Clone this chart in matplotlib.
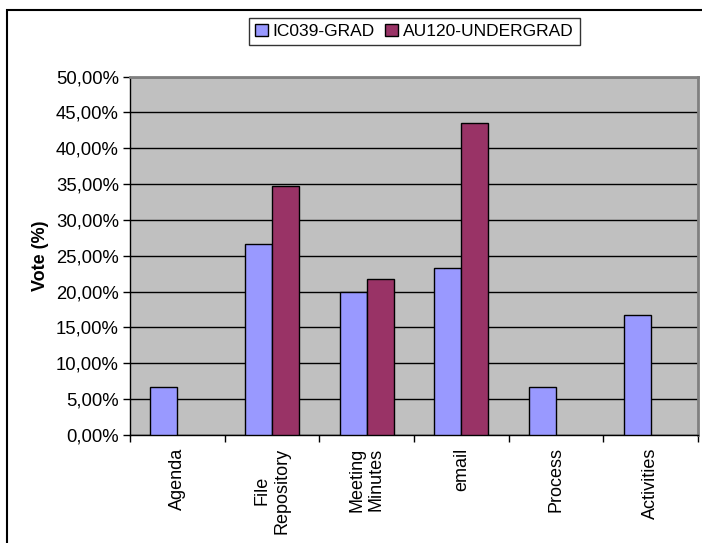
import matplotlib
matplotlib.use("Agg")
import matplotlib.pyplot as plt
import numpy as np
from matplotlib.patches import Rectangle
from matplotlib.ticker import FuncFormatter

plt.rcParams['font.family'] = ['Liberation Sans', 'DejaVu Sans']

categories = ["Agenda", "File\nRepository", "Meeting\nMinutes", "email", "Process", "Activities"]
series_names = ["IC039-GRAD", "AU120-UNDERGRAD"]
grad_values = [6.67, 26.67, 20.00, 23.33, 6.67, 16.67]
undergrad_values = [0.0, 34.78, 21.74, 43.48, 0.0, 0.0]
y_ticks = [0, 5, 10, 15, 20, 25, 30, 35, 40, 45, 50]

colors = ["#9999FF", "#993366"]

fig = plt.figure(figsize=(7.02, 5.43), dpi=100)
ax = fig.add_axes([130 / 702, 1 - 435 / 543, (698 - 130) / 702, (435 - 76.5) / 543])
ax.set_facecolor("#C0C0C0")

x = np.arange(len(categories))
bw = 1 / 3.5
for vals, off, col, name in [(grad_values, -bw / 2, colors[0], series_names[0]),
                             (undergrad_values, bw / 2, colors[1], series_names[1])]:
    v = np.array(vals)
    mask = v > 0
    ax.bar(x[mask] + off, v[mask], width=bw, color=col, edgecolor="black",
           linewidth=1.0, zorder=3, label=name)

ax.set_xlim(-0.5, len(categories) - 0.5)
ax.set_ylim(0, 50)
ax.set_yticks(y_ticks)
ax.yaxis.set_major_formatter(FuncFormatter(lambda v, p: f"{v:.2f}".replace(".", ",") + "%"))
ax.grid(axis="y", color="black", linewidth=1.0, zorder=1)
ax.set_axisbelow(True)

# category ticks at boundaries, labels at centers
ax.set_xticks(np.arange(len(categories) + 1) - 0.5)
ax.set_xticklabels([])
ax.set_xticks(x, minor=True)
ax.set_xticklabels(categories, minor=True, rotation=90, va="top", ha="center",
                   multialignment="center", fontsize=13)
ax.tick_params(axis="x", which="minor", length=0, pad=9)
ax.tick_params(axis="x", which="major", length=5, width=1, color="black", direction="out")
ax.tick_params(axis="y", length=5, width=1, color="black", direction="out",
               labelsize=13.3, pad=3)

for s in ["left", "bottom"]:
    ax.spines[s].set_color("black")
    ax.spines[s].set_linewidth(1.0)
for s in ["top", "right"]:
    ax.spines[s].set_color("#808080")
    ax.spines[s].set_linewidth(2.0)

ax.set_ylabel("Vote (%)", fontsize=13, fontweight="bold", labelpad=5)

leg = fig.legend(loc="center", bbox_to_anchor=(414.5 / 702, 1 - 31.8 / 543), ncol=2,
                 fontsize=12.5, frameon=True, fancybox=False, edgecolor="black",
                 handlelength=0.7, handleheight=0.7, handletextpad=0.3,
                 columnspacing=0.6, borderpad=0.35, borderaxespad=0)
leg.get_frame().set_linewidth(1.0)

# outer chart frame
fig.patches.append(Rectangle((7 / 702, -0.1), 1.2, 1 - 10 / 543 + 0.1,
                             transform=fig.transFigure, fill=False,
                             edgecolor="black", linewidth=1.5))

fig.savefig("out.png", dpi=100, facecolor="white")
